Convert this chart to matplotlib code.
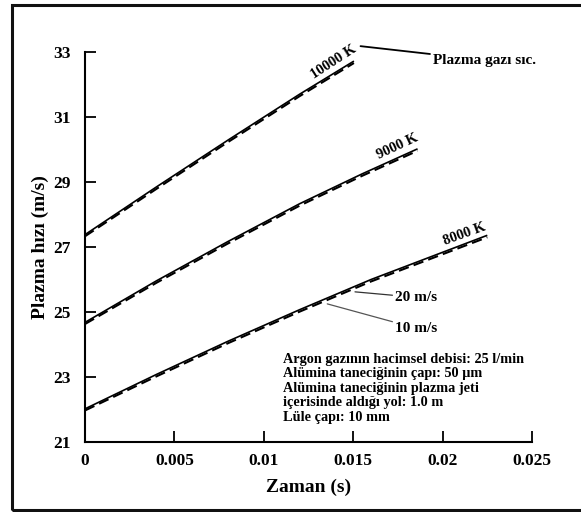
import matplotlib
matplotlib.use("Agg")
import matplotlib.pyplot as plt
from matplotlib.patches import Rectangle

# Data (time in s, plasma velocity in m/s)
t_10000 = [0, 0.004, 0.008, 0.012, 0.01504]
v_10000_20 = [27.38, 28.85, 30.29, 31.70, 32.72]
v_10000_10 = [27.33, 28.79, 30.23, 31.64, 32.66]

t_9000 = [0, 0.004, 0.008, 0.012, 0.0155, 0.0186]
v_9000_20 = [24.68, 25.96, 27.17, 28.33, 29.25, 30.02]
v_9000_10 = [24.63, 25.90, 27.11, 28.27, 29.19, 29.96]

t_8000 = [0, 0.004, 0.008, 0.012, 0.016, 0.0225]
v_8000_20 = [22.02, 23.08, 24.10, 25.07, 26.00, 27.36]
v_8000_10 = [21.97, 23.02, 24.04, 25.01, 25.94, 27.30]

xticks = [0, 0.005, 0.01, 0.015, 0.02, 0.025]
xticklabels = ["0", "0.005", "0.01", "0.015", "0.02", "0.025"]
yticks = [21, 23, 25, 27, 29, 31, 33]

info_lines = ["Argon gazının hacimsel debisi: 25 l/min",
              "Alümina taneciğinin çapı: 50 μm",
              "Alümina taneciğinin plazma jeti",
              "içerisinde aldığı yol: 1.0 m",
              "Lüle çapı: 10 mm"]

plt.rcParams['font.family'] = ['Liberation Serif', 'DejaVu Serif']

fig = plt.figure(figsize=(5.81, 5.12), dpi=100)
fig.patches.append(Rectangle((12/581, 2/512), 1.0, 505/512, transform=fig.transFigure,
                             fill=False, lw=2.2, ec='#111111', clip_on=False))
ax = fig.add_axes([85/581, 70/512, 447/581, 390/512])

for t, a, b in [(t_10000, v_10000_20, v_10000_10),
                (t_9000, v_9000_20, v_9000_10),
                (t_8000, v_8000_20, v_8000_10)]:
    ax.plot(t, a, color='black', lw=1.2, solid_capstyle='butt')
    ax.plot(t, b, color='black', lw=1.5, ls=(0, (5, 2.5)))

ax.set_xlim(0, 0.025)
ax.set_ylim(21, 33)
ax.set_xticks(xticks)
ax.set_xticklabels(xticklabels)
ax.set_yticks(yticks)
for s in ['top', 'right']:
    ax.spines[s].set_visible(False)
for s in ['left', 'bottom']:
    ax.spines[s].set_linewidth(1.5)
ax.tick_params(direction='in', length=8, width=1.3, labelsize=12.5)
for lab in ax.get_xticklabels() + ax.get_yticklabels():
    lab.set_fontweight('bold')
ax.tick_params(axis='x', pad=8)
ax.tick_params(axis='y', pad=10)

ax.set_xlabel("Zaman (s)", fontsize=14, fontweight='bold', labelpad=7)
ax.set_ylabel("Plazma hızı (m/s)", fontsize=14, fontweight='bold', labelpad=3)

# Curve labels
ax.text(0.01393, 32.69, "10000 K", rotation=33, fontsize=10.5, fontweight='bold',
        ha='center', va='center', rotation_mode='anchor')
ax.text(0.01745, 30.08, "9000 K", rotation=25, fontsize=10.5, fontweight='bold',
        ha='center', va='center', rotation_mode='anchor')
ax.text(0.0212, 27.40, "8000 K", rotation=20, fontsize=10.5, fontweight='bold',
        ha='center', va='center', rotation_mode='anchor')

# Annotations
ax.annotate("Plazma gazı sıc.", xy=(0.01541, 33.18), xytext=(0.01945, 32.75),
            fontsize=11, fontweight='bold', va='center', ha='left',
            arrowprops=dict(arrowstyle='-', color='black', lw=1.3,
                            shrinkA=0, shrinkB=0), annotation_clip=False)
ax.annotate("20 m/s", xy=(0.01510, 25.62), xytext=(0.01735, 25.45),
            fontsize=11, fontweight='bold', va='center', ha='left',
            arrowprops=dict(arrowstyle='-', color='#333333', lw=0.9,
                            shrinkA=0, shrinkB=0))
ax.annotate("10 m/s", xy=(0.01355, 25.25), xytext=(0.01735, 24.50),
            fontsize=11, fontweight='bold', va='center', ha='left',
            arrowprops=dict(arrowstyle='-', color='#555555', lw=0.9,
                            shrinkA=0, shrinkB=0))

ax.text(0.01105, 23.75, "\n".join(info_lines), fontsize=10.3, fontweight='bold',
        ha='left', va='top', linespacing=1.15)

fig.savefig("out.png", dpi=100)
